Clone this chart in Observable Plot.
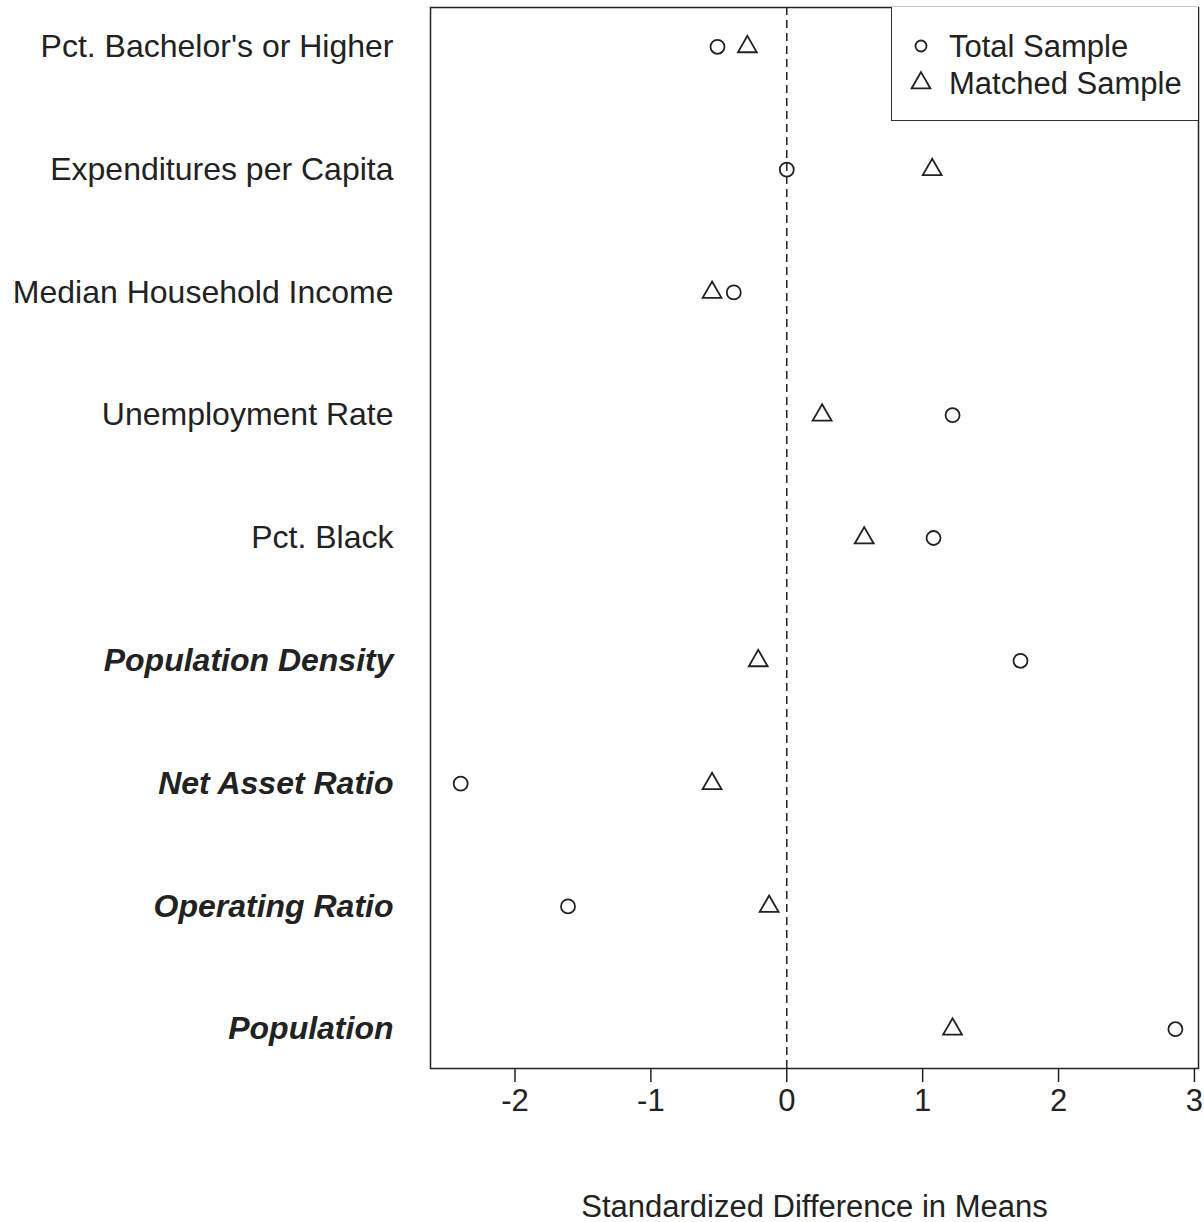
<!DOCTYPE html>
<html>
<head>
<meta charset="utf-8">
<script src="https://cdn.jsdelivr.net/npm/d3@7"></script>
<script src="https://cdn.jsdelivr.net/npm/@observablehq/plot@0.6"></script>
<style>
  html, body { margin: 0; padding: 0; background: #fff; }
  #wrap { position: relative; width: 1204px; height: 1222px; font-family: "Liberation Sans", Arial, sans-serif; }
  #legend { position: absolute; left: 891px; top: 7px; width: 307px; height: 114px; border: 1.5px solid #333; box-sizing: border-box; border-right: none; border-top: none; background: #fff; }
  #legend svg { display: block; }
</style>
</head>
<body>
<div id="wrap"></div>
<script>
const variables = ["Pct. Bachelor's or Higher", "Expenditures per Capita", "Median Household Income", "Unemployment Rate", "Pct. Black", "Population Density", "Net Asset Ratio", "Operating Ratio", "Population"];
const emphasized = [false, false, false, false, false, true, true, true, true];
const totalSample = [-0.51, 0.0, -0.39, 1.22, 1.08, 1.72, -2.40, -1.61, 2.86];
const matchedSample = [-0.29, 1.07, -0.55, 0.26, 0.57, -0.21, -0.55, -0.13, 1.22];
const xTicks = [-2, -1, 0, 1, 2, 3];
const seriesNames = ["Total Sample", "Matched Sample"];

const rows = variables.map((v, i) => ({variable: v, bold: emphasized[i], total: totalSample[i], matched: matchedSample[i]}));
const ink = "#222";
const font = "Liberation Sans, Arial, sans-serif";

const chart = Plot.plot({
  width: 1204,
  height: 1222,
  marginLeft: 430,
  marginRight: 6,
  marginTop: 7,
  marginBottom: 154,
  style: {fontFamily: font, background: "#fff", color: ink},
  x: {domain: [-2.622, 3.03]},
  y: {type: "point", domain: variables, padding: 0.32, round: false, label: null, axis: null},
  marks: [
    Plot.ruleX([0], {stroke: ink, strokeWidth: 1.5, strokeDasharray: "8,5"}),
    Plot.frame({stroke: ink, strokeWidth: 1.5}),
    Plot.axisX({ticks: xTicks, tickSize: 14, tickPadding: 6, fontSize: 31, stroke: ink, strokeWidth: 1.5, tickFormat: d => d < 0 ? "-" + Math.abs(d) : String(d), label: "Standardized Difference in Means", labelAnchor: "center", labelArrow: "none", labelOffset: 148}),
    Plot.text(rows.filter(d => !d.bold), {y: "variable", text: "variable", frameAnchor: "left", textAnchor: "end", dx: -37, fontSize: 32, fill: ink}),
    Plot.text(rows.filter(d => d.bold), {y: "variable", text: "variable", frameAnchor: "left", textAnchor: "end", dx: -37, fontSize: 32, fontWeight: "bold", fontStyle: "italic", fill: ink}),
    Plot.dot(rows, {x: "total", y: "variable", symbol: "circle", r: 7, stroke: ink, strokeWidth: 1.8, fill: "none"}),
    Plot.dot(rows, {x: "matched", y: "variable", symbol: "triangle", r: 7, stroke: ink, strokeWidth: 1.8, fill: "none"})
  ]
});

chart.querySelectorAll("g[aria-label='x-axis label'] text").forEach(t => { t.setAttribute("font-size", 31); });

const wrap = document.getElementById("wrap");
wrap.appendChild(chart);

// Legend overlay
const legend = document.createElement("div");
legend.id = "legend";
wrap.appendChild(legend);
const lsvg = d3.select(legend).append("svg").attr("width", 306).attr("height", 113);
const symbols = [d3.symbolCircle, d3.symbolTriangle];
const sizes = [Math.PI * 5.5 * 5.5, Math.PI * 7 * 7];
seriesNames.forEach((name, i) => {
  const g = lsvg.append("g").attr("transform", `translate(29, ${39 + i * 37})`);
  g.append("path").attr("d", d3.symbol(symbols[i], sizes[i])()).attr("fill", "none").attr("stroke", ink).attr("stroke-width", 1.8);
  g.append("text").attr("x", 28).attr("dy", "0.35em").attr("font-size", 31).attr("font-family", font).attr("fill", ink).text(name);
});
</script>
</body>
</html>
